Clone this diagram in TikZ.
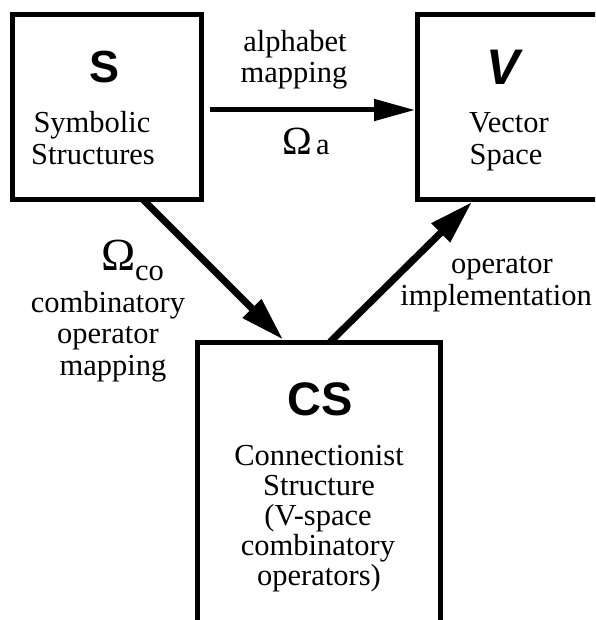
\documentclass[tikz,border=0pt]{standalone}
\usepackage{fontspec}
\setmainfont{Liberation Serif}
\newfontfamily\headfont{Liberation Sans}
\usetikzlibrary{arrows.meta,calc}
\begin{document}
\begin{tikzpicture}[x=1pt,y=-1pt,
  box/.style={draw, line width=5pt, rectangle, inner sep=0pt, outer sep=0pt},
  lbl/.style={anchor=base, inner sep=0pt, font=\fontsize{30.5}{30.5}\selectfont},
  big/.style={anchor=base, inner sep=0pt, font=\headfont\bfseries\fontsize{46}{46}\selectfont},
  arr/.style={line width=7pt, -{Triangle[length=44pt,width=25pt]}},
  harr/.style={line width=5pt, -{Triangle[length=41pt,width=21pt]}},
]
\useasboundingbox (0,0) rectangle (595,620);
\clip (0,0) rectangle (595,620);

% boxes
\node[box, minimum width=189pt, minimum height=184.5pt] (S) at (107,107.25) {};
\node[box, minimum width=202.5pt, minimum height=184.5pt] (V) at (518.75,107.25) {};
\node[box, minimum width=243pt, minimum height=318pt] (CS) at (319,501) {};

% box titles
\node[big, font=\headfont\bfseries\fontsize{45}{45}\selectfont] (Stitle) at (105,83) {S};
\node[big, font=\headfont\bfseries\itshape\fontsize{50}{50}\selectfont] (Vtitle) at (503,85) {V};
\node[big, font=\headfont\bfseries\fontsize{47}{47}\selectfont] (CStitle) at (320,415) {CS};

% box texts
\node[lbl] (S1) at (92,133) {Symbolic};
\node[lbl] (S2) at (93,165) {Structures};
\node[lbl] (V1) at (509,133) {Vector};
\node[lbl] (V2) at (506,165) {Space};
\node[lbl] (C1) at (319,465) {Connectionist};
\node[lbl] (C2) at (319,495) {Structure};
\node[lbl] (C3) at (318,525) {(V-space};
\node[lbl] (C4) at (318,555) {combinatory};
\node[lbl] (C5) at (319,585) {operators)};

% connectors
\draw[harr] ($(S.east)+(8,2.75)$) -- ($(V.west)+(-2.5,2.75)$);
\draw[arr] ($(S.south)+(36,0)$) -- ($(CS.north)+(-36,-2.5)$);
\draw[arr] ($(CS.north)+(11,0)$) -- ($(V.south)+(-46.75,2.5)$);

% connector labels
\node[lbl] (a1) at (295,52) {alphabet};
\node[lbl] (a2) at (294,83) {mapping};
\node[lbl] (oa) at (306,155) {{\fontsize{40}{40}\selectfont Ω}\hspace{4pt}a};
\node[lbl] (oco) at (132.5,270) {{\fontsize{46}{46}\selectfont Ω}\raisebox{-10pt}{co}};
\node[lbl] (c1) at (108,312) {combinatory};
\node[lbl] (c2) at (108,343) {operator};
\node[lbl] (c3) at (113,375) {mapping};
\node[lbl] (i1) at (502,273) {operator};
\node[lbl] (i2) at (496,305) {implementation};
\end{tikzpicture}
\end{document}
